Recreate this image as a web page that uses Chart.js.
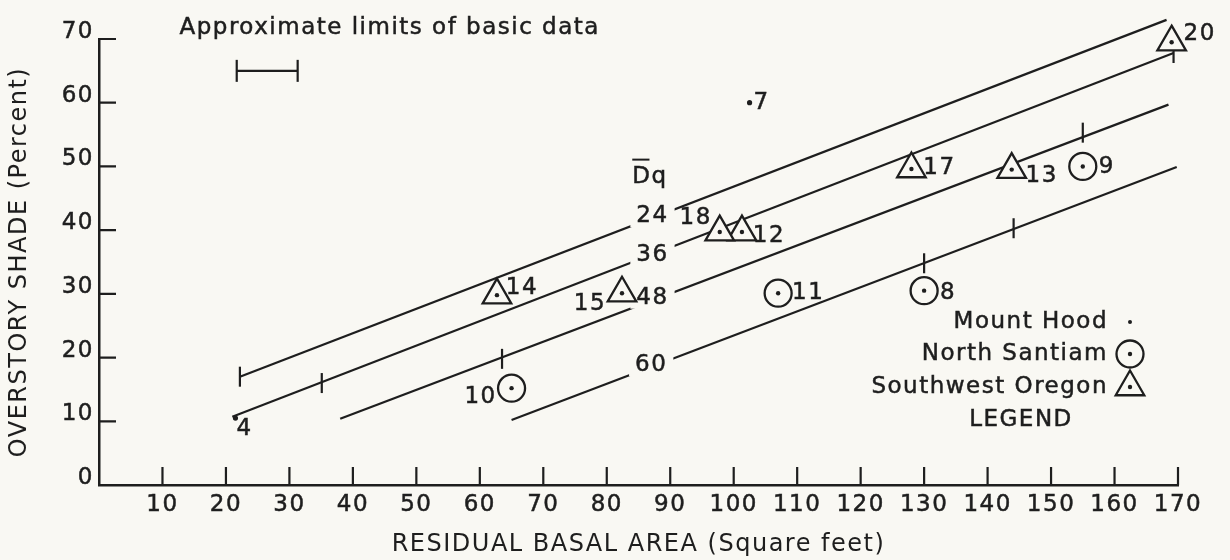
<!DOCTYPE html>
<html>
<head>
<meta charset="utf-8">
<script src="https://cdn.jsdelivr.net/npm/chart.js@4.4.0/dist/chart.umd.min.js"></script>
<style>
    html, body { margin: 0; padding: 0; background: #f9f8f3; }
</style>
</head>
<body>
<canvas id="grafico" width="1230" height="560"></canvas>
<script>
const tinta = "#1e1e1e";
const papel = "#f9f8f3";
const fonte = "'DejaVu Sans', sans-serif";

// Mount Hood (ponto simples)
const hoodIds = ["4", "7"];
const hoodX = [21.5, 102.5];
const hoodY = [10.5, 60];

// North Santiam (circulo com ponto)
const santiamIds = ["8", "9", "10", "11"];
const santiamX = [130, 155, 65, 107];
const santiamY = [30.5, 50, 15.2, 30.1];

// Southwest Oregon (triangulo com ponto)
const oregonIds = ["12", "13", "14", "15", "17", "18", "20"];
const oregonX = [101.3, 143.8, 62.7, 82.4, 128, 97.8, 169];
const oregonY = [39.7, 49.5, 29.8, 30.1, 49.6, 39.7, 69.5];

// linhas de Dq
const dqLabels = ["24", "36", "48", "60"];
const dqStartX = [22.2, 21.0, 38.0, 65.0];
const dqStartY = [17.0, 10.7, 10.4, 10.2];
const dqEndX = [168.2, 169.3, 168.5, 169.8];
const dqEndY = [73.0, 67.8, 59.7, 49.9];
const dqLabelX = [87.2, 87.2, 87.2, 87.0];
const dqLabelY = [42.2, 36.1, 29.4, 18.8];
const dqTickX = [[22.2, 168.2], [35.1, 169.3], [63.5, 155], [130, 144.1]];
const dqTickY = [[17.0, 73.0], [16.0, 67.8], [19.8, 55.3], [34.8, 40.3]];
const dqTitleX = 86.8;
const dqTitleY = 48.4;

// limites aproximados dos dados basicos
const limitsX = [21.7, 31.3];
const limitsY = [65, 65];
const limitsText = "Approximate limits of basic data";
const limitsTextX = 45.8;
const limitsTextY = 71.7;

// eixos
const xMin = 0, xMax = 170, xStep = 10;
const yMin = 0, yMax = 70, yStep = 10;

// deslocamento dos rotulos (px)
const rotuloDesvio = {
    "4": [9, 11], "7": [12, 0],
    "8": [24, 2], "9": [24, 1], "10": [-31, 9], "11": [30, 0],
    "12": [27, 4], "13": [30, 6], "14": [25, -7], "15": [-32, 11],
    "17": [28, -1], "18": [-24, -14], "20": [28, -8]
};

function juntaPontos(xs, ys) {
    return xs.map((x, i) => ({ x: x, y: ys[i] }));
}

const datasets = [];

datasets.push({
    label: "centros",
    data: juntaPontos(santiamX.concat(oregonX), santiamY.concat(oregonY)),
    pointStyle: "circle",
    pointRadius: 2.2,
    pointBackgroundColor: tinta,
    pointBorderWidth: 0,
    order: -1,
});

datasets.push({
    label: "Mount Hood",
    ids: hoodIds,
    data: juntaPontos(hoodX, hoodY),
    pointStyle: "circle",
    pointRadius: 2.6,
    pointBackgroundColor: tinta,
    pointBorderWidth: 0,
    order: 0,
});

datasets.push({
    label: "North Santiam",
    ids: santiamIds,
    data: juntaPontos(santiamX, santiamY),
    pointStyle: "circle",
    pointRadius: 13.5,
    pointBackgroundColor: papel,
    pointBorderColor: tinta,
    pointBorderWidth: 2.3,
    order: 0,
});

datasets.push({
    label: "Southwest Oregon",
    ids: oregonIds,
    data: juntaPontos(oregonX, oregonY),
    pointStyle: "triangle",
    pointRadius: 16.5,
    pointBackgroundColor: papel,
    pointBorderColor: tinta,
    pointBorderWidth: 2.3,
    order: 0,
});

const marcas = [];
dqTickX.forEach((xs, i) => xs.forEach((x, j) => marcas.push({ x: x, y: dqTickY[i][j] })));
datasets.push({
    label: "marcas",
    data: marcas,
    pointStyle: "line",
    pointRotation: 90,
    pointRadius: 10,
    pointBorderColor: tinta,
    pointBorderWidth: 2.2,
    order: 2,
});

datasets.push({
    label: "limites",
    data: juntaPontos(limitsX, limitsY),
    showLine: true,
    borderColor: tinta,
    borderWidth: 2.2,
    pointStyle: "line",
    pointRotation: 90,
    pointRadius: 11,
    pointBorderColor: tinta,
    pointBorderWidth: 2.2,
    order: 2,
});

dqLabels.forEach((lab, i) => {
    datasets.push({
        label: "Dq " + lab,
        dqIndex: i,
        data: [{ x: dqStartX[i], y: dqStartY[i] }, { x: dqEndX[i], y: dqEndY[i] }],
        showLine: true,
        borderColor: tinta,
        borderWidth: 2.2,
        pointRadius: 0,
        order: 3,
    });
});

datasets.forEach(ds => { ds.clip = false; });

function escreve(ctx, texto, x, y, align, size) {
    ctx.save();
    ctx.font = (size || 23) + "px " + fonte;
    ctx.fillStyle = tinta;
    ctx.strokeStyle = tinta;
    ctx.lineWidth = 0.5;
    ctx.textAlign = align || "center";
    ctx.textBaseline = "middle";
    ctx.letterSpacing = "1.5px";
    ctx.fillText(texto, x, y);
    ctx.strokeText(texto, x, y);
    ctx.restore();
}

const espacamento = {
    id: "espacamento",
    beforeLayout(chart) { chart.ctx.letterSpacing = "1.5px"; },
    beforeDraw(chart) { chart.ctx.letterSpacing = "1.5px"; },
};

// marcas dos eixos para dentro
const marcasEixo = {
    id: "marcasEixo",
    beforeDatasetsDraw(chart) {
        const { ctx, chartArea, scales } = chart;
        ctx.save();
        ctx.strokeStyle = tinta;
        ctx.lineWidth = 2.2;
        ctx.beginPath();
        scales.x.ticks.forEach(t => {
            if (t.value === xMin) return;
            const px = scales.x.getPixelForValue(t.value);
            ctx.moveTo(px, chartArea.bottom);
            ctx.lineTo(px, chartArea.bottom - 18);
        });
        scales.y.ticks.forEach(t => {
            if (t.value === yMin) return;
            const py = scales.y.getPixelForValue(t.value);
            ctx.moveTo(chartArea.left, py);
            ctx.lineTo(chartArea.left + 17, py);
        });
        ctx.stroke();
        ctx.restore();
    },
};

// rotulos das linhas de Dq, com fundo que corta a linha
const rotulosDq = {
    id: "rotulosDq",
    afterDatasetDraw(chart, args) {
        const ds = chart.data.datasets[args.index];
        if (ds.dqIndex === undefined) return;
        const { ctx, scales } = chart;
        const i = ds.dqIndex;
        const px = scales.x.getPixelForValue(dqLabelX[i]);
        const py = scales.y.getPixelForValue(dqLabelY[i]);
        ctx.save();
        ctx.font = "23px " + fonte;
        ctx.letterSpacing = "1.5px";
        const w = ctx.measureText(dqLabels[i]).width + 12;
        ctx.fillStyle = papel;
        ctx.fillRect(px - w / 2, py - 11, w, 22);
        ctx.restore();
        escreve(ctx, dqLabels[i], px, py);
    },
};

const anotacoes = {
    id: "anotacoes",
    afterDatasetsDraw(chart) {
        const { ctx, scales, chartArea } = chart;

        // numeros dos pontos
        chart.data.datasets.forEach((ds, di) => {
            if (!ds.ids) return;
            const meta = chart.getDatasetMeta(di);
            meta.data.forEach((el, k) => {
                const id = ds.ids[k];
                const d = rotuloDesvio[id] || [20, 0];
                escreve(ctx, id, el.x + d[0], el.y + d[1]);
            });
        });

        // titulo Dq com barra sobre o D
        const tx = scales.x.getPixelForValue(dqTitleX);
        const ty = scales.y.getPixelForValue(dqTitleY);
        escreve(ctx, "Dq", tx, ty);
        ctx.save();
        ctx.font = "23px " + fonte;
        ctx.letterSpacing = "1.5px";
        const wTot = ctx.measureText("Dq").width;
        const wD = ctx.measureText("D").width;
        ctx.strokeStyle = tinta;
        ctx.lineWidth = 2;
        ctx.beginPath();
        ctx.moveTo(tx - wTot / 2, ty - 17);
        ctx.lineTo(tx - wTot / 2 + wD - 2, ty - 17);
        ctx.stroke();
        ctx.restore();

        // texto dos limites
        escreve(ctx, limitsText, scales.x.getPixelForValue(limitsTextX), scales.y.getPixelForValue(limitsTextY));

        // legenda
        const simbX = chartArea.right - 48;
        const textoX = simbX - 22;
        const linhas = [
            { texto: "Mount Hood", ds: 1, dy: -163 },
            { texto: "North Santiam", ds: 2, dy: -131 },
            { texto: "Southwest Oregon", ds: 3, dy: -98 },
        ];
        linhas.forEach(l => {
            const y = chartArea.bottom + l.dy;
            escreve(ctx, l.texto, textoX, y, "right");
            const ds = chart.data.datasets[l.ds];
            ctx.save();
            ctx.fillStyle = ds.pointBackgroundColor;
            ctx.strokeStyle = ds.pointBorderColor || tinta;
            ctx.lineWidth = ds.pointBorderWidth;
            const r = l.ds === 1 ? 2 : ds.pointRadius;
            Chart.helpers.drawPoint(ctx, { pointStyle: ds.pointStyle, radius: r, rotation: 0, borderWidth: ds.pointBorderWidth }, simbX, y);
            ctx.restore();
            if (l.ds !== 1) {
                ctx.save();
                ctx.fillStyle = tinta;
                Chart.helpers.drawPoint(ctx, { pointStyle: "circle", radius: 2.2, rotation: 0, borderWidth: 0 }, simbX, y);
                ctx.restore();
            }
        });
        escreve(ctx, "LEGEND", chartArea.right - 157, chartArea.bottom - 65);
    },
};

const grafico = new Chart(document.getElementById("grafico"), {
    type: "scatter",
    data: { datasets: datasets },
    options: {
        responsive: false,
        animation: false,
        events: [],
        layout: { padding: { top: 39, right: 52, left: 0, bottom: 0 } },
        plugins: {
            legend: { display: false },
            tooltip: { enabled: false },
        },
        scales: {
            x: {
                type: "linear",
                min: xMin,
                max: xMax,
                afterFit: s => { s.height = 75; },
                grid: { display: false, drawTicks: false },
                border: { display: true, color: tinta, width: 2.5 },
                ticks: {
                    stepSize: xStep,
                    color: tinta,
                    font: { family: fonte, size: 23 },
                    textStrokeColor: tinta,
                    textStrokeWidth: 0.5,
                    padding: 6,
                    maxRotation: 0,
                    autoSkip: false,
                    callback: v => (v === xMin ? null : v),
                },
                title: {
                    display: true,
                    text: "RESIDUAL BASAL AREA (Square feet)",
                    color: tinta,
                    font: { family: fonte, size: 24 },
                    padding: { top: 0, bottom: 1 },
                },
            },
            y: {
                type: "linear",
                min: yMin,
                max: yMax,
                afterFit: s => { s.width = 99; },
                grid: { display: false, drawTicks: false },
                border: { display: true, color: tinta, width: 2.5 },
                ticks: {
                    stepSize: yStep,
                    color: tinta,
                    font: { family: fonte, size: 23 },
                    textStrokeColor: tinta,
                    textStrokeWidth: 0.5,
                    padding: 5,
                    labelOffset: -7,
                },
                title: {
                    display: true,
                    text: "OVERSTORY SHADE (Percent)",
                    color: tinta,
                    font: { family: fonte, size: 24 },
                    padding: { top: 5, bottom: 0 },
                },
            },
        },
    },
    plugins: [espacamento, marcasEixo, rotulosDq, anotacoes],
});
</script>
</body>
</html>
